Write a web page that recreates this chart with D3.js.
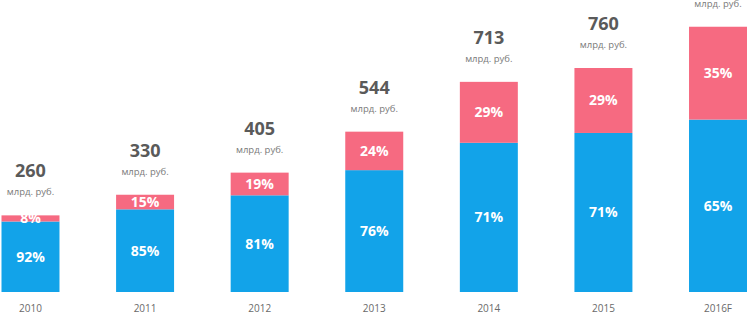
<!DOCTYPE html>
<html>
<head>
<meta charset="utf-8">
<script src="https://cdn.jsdelivr.net/npm/d3@7"></script>
<style>
  html, body { margin: 0; padding: 0; background: #fff; }
  svg { display: block; font-family: "Open Sans", sans-serif; }
</style>
</head>
<body>
<div id="chart"></div>
<script>
// market volume by year, split into two shares
const years = ['2010', '2011', '2012', '2013', '2014', '2015', '2016F'];
const totals = [260, 330, 405, 544, 713, 760, 900];
const blueShare = [92, 85, 81, 76, 71, 71, 65];
const pinkShare = [8, 15, 19, 24, 29, 29, 35];
const unitLabel = 'млрд. руб.';

const W = 750, H = 314;
const BASE = 292;
const BLUE = '#12a3e9', PINK = '#f66a81';

const svg = d3.select('#chart').append('svg').attr('width', W).attr('height', H);

const x = d3.scaleBand().domain(years).range([1.5, 747]).paddingInner(0.494).paddingOuter(0);
const y = d3.scaleLinear().domain([0, 760]).range([BASE, 68]);

const rows = years.map((yr, i) => ({
  year: yr, total: totals[i], blue: blueShare[i], pink: pinkShare[i]
}));

const g = svg.selectAll('g.bar').data(rows).join('g').attr('class', 'bar');

// blue (lower) segment
g.append('rect')
  .attr('x', d => x(d.year))
  .attr('width', x.bandwidth())
  .attr('y', d => y(d.total * d.blue / 100))
  .attr('height', d => BASE - y(d.total * d.blue / 100))
  .attr('fill', BLUE);

// pink (upper) segment
g.append('rect')
  .attr('x', d => x(d.year))
  .attr('width', x.bandwidth())
  .attr('y', d => y(d.total))
  .attr('height', d => y(d.total * d.blue / 100) - y(d.total))
  .attr('fill', PINK);

const cx = d => x(d.year) + x.bandwidth() / 2;

g.append('text')
  .attr('x', cx)
  .attr('y', d => (BASE + y(d.total * d.blue / 100)) / 2 + 5)
  .attr('text-anchor', 'middle')
  .attr('fill', '#fff').attr('font-weight', 700).attr('font-size', 14)
  .text(d => d.blue + '%');

g.append('text')
  .attr('x', cx)
  .attr('y', d => (y(d.total) + y(d.total * d.blue / 100)) / 2 + 5)
  .attr('text-anchor', 'middle')
  .attr('fill', '#fff').attr('font-weight', 700).attr('font-size', 14)
  .text(d => d.pink + '%');

// totals above bars
g.append('text')
  .attr('x', cx)
  .attr('y', d => y(d.total) - 38)
  .attr('text-anchor', 'middle')
  .attr('fill', '#5a5a5a').attr('font-weight', 700).attr('font-size', 18)
  .text(d => d.total);

g.append('text')
  .attr('x', cx)
  .attr('y', d => y(d.total) - 20)
  .attr('text-anchor', 'middle')
  .attr('fill', '#7a7a7a').attr('font-size', 9.5)
  .text(unitLabel);

// year axis
svg.append('g')
  .attr('transform', `translate(0,${BASE})`)
  .call(d3.axisBottom(x).tickSize(0).tickPadding(13))
  .call(a => a.select('.domain').remove())
  .selectAll('text')
  .attr('fill', '#6a6a6a')
  .style('font-family', '"Open Sans", sans-serif')
  .style('font-size', '10px');
</script>
</body>
</html>
